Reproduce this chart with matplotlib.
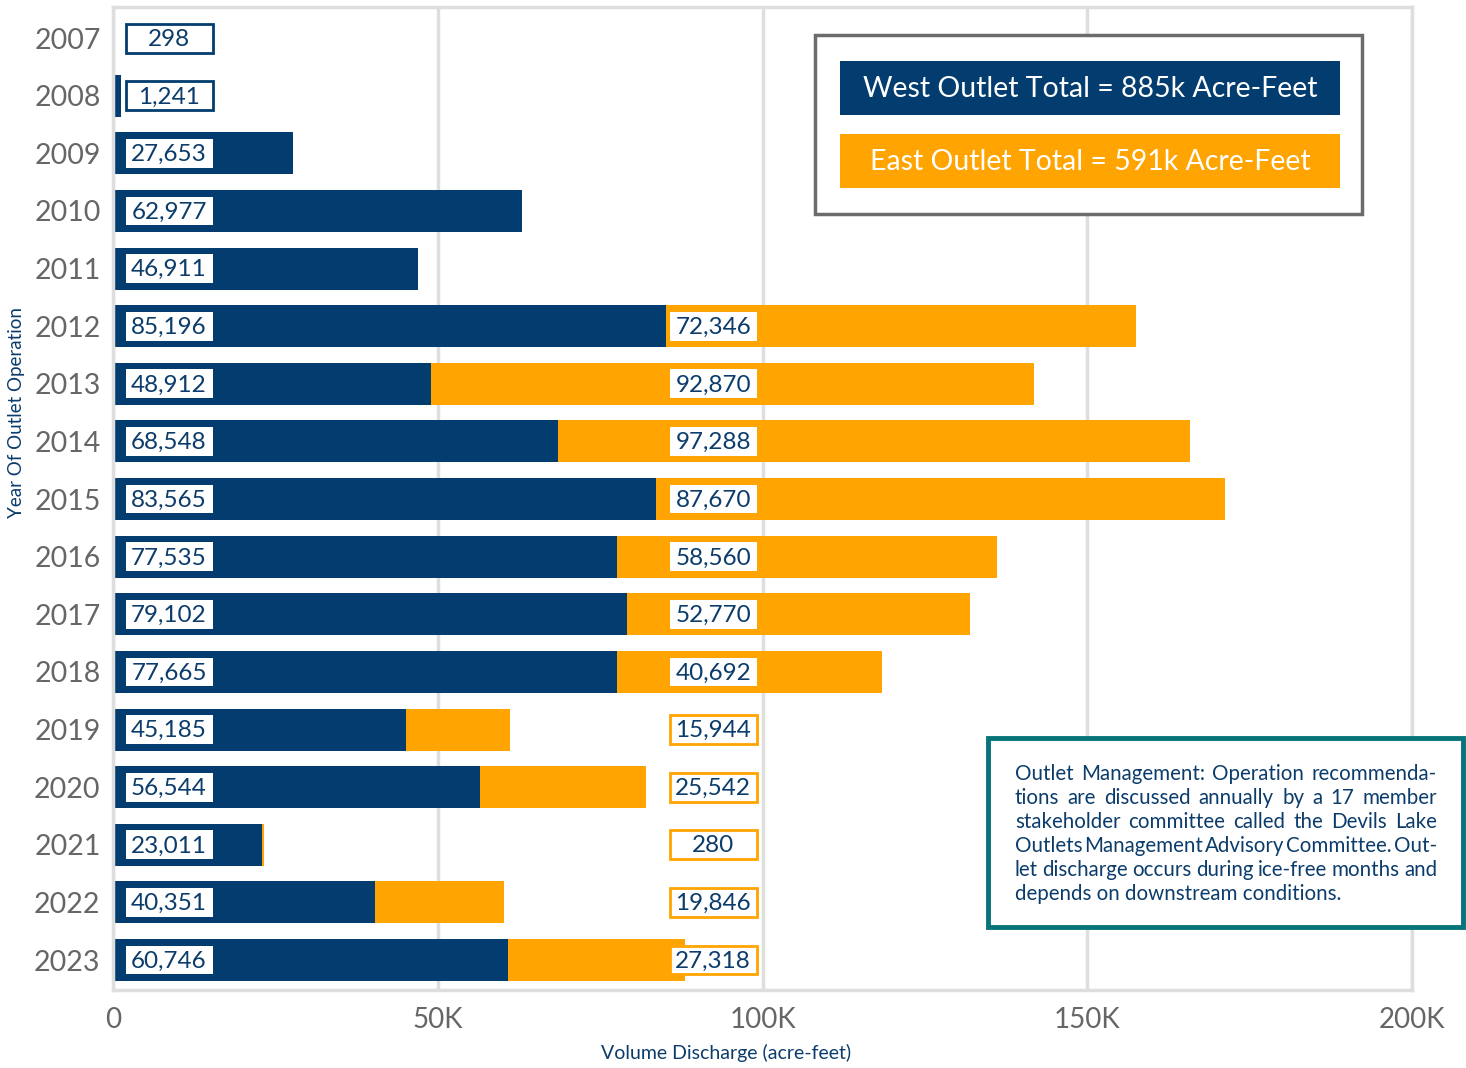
import numpy as np
import matplotlib
matplotlib.use("Agg")
import matplotlib.pyplot as plt
from matplotlib.patches import Rectangle

plt.rcParams['font.family'] = ['Lato', 'DejaVu Sans']

years = ["2007", "2008", "2009", "2010", "2011", "2012", "2013", "2014", "2015",
         "2016", "2017", "2018", "2019", "2020", "2021", "2022", "2023"]
west = [298, 1241, 27653, 62977, 46911, 85196, 48912, 68548, 83565,
        77535, 79102, 77665, 45185, 56544, 23011, 40351, 60746]
east = [0, 0, 0, 0, 0, 72346, 92870, 97288, 87670,
        58560, 52770, 40692, 15944, 25542, 280, 19846, 27318]
xticks = [0, 50000, 100000, 150000, 200000]
xtick_labels = ["0", "50K", "100K", "150K", "200K"]
legend_lines = ["West Outlet Total = 885k Acre-Feet", "East Outlet Total = 591k Acre-Feet"]
note_lines = ["Outlet Management: Operation recommenda-",
              "tions are discussed annually by a 17 member",
              "stakeholder committee called the Devils Lake",
              "Outlets Management Advisory Committee. Out-",
              "let discharge occurs during ice-free months and",
              "depends on downstream conditions."]

NAVY = "#033d6f"
ORANGE = "#ffa400"
GRID = "#dedede"
TXT = "#0b3c6b"
GRAY = "#666666"

W, H = 1466, 1068
fig = plt.figure(figsize=(W / 100, H / 100), dpi=100)

def fx(px):
    return px / W

def fy(py):
    return 1 - py / H

ax = fig.add_axes([fx(113), fy(990), fx(1412) - fx(113), fy(7) - fy(990)])
y = np.arange(len(years))
ax.barh(y, west, height=0.73, color=NAVY, zorder=2)
ax.barh(y, east, left=west, height=0.73, color=ORANGE, zorder=2)
ax.set_xlim(0, 200000)
ax.set_ylim(16.52, -0.54)
ax.set_xticks(xticks)
ax.set_xticklabels(xtick_labels)
ax.set_yticks(y)
ax.set_yticklabels(years)
ax.tick_params(axis="x", length=0, labelsize=20, labelcolor=GRAY, pad=12)
ax.tick_params(axis="y", length=0, labelsize=20.5, labelcolor=GRAY, pad=9)
ax.grid(axis="x", color=GRID, lw=2.5, zorder=0)
for s in ax.spines.values():
    s.set_color(GRID)
    s.set_linewidth(2.5)
fig.text(fx(726), fy(1053), "Volume Discharge (acre-feet)", ha="center", va="center",
         fontsize=14, color=TXT)
fig.text(fx(17), fy(412), "Year Of Outlet Operation", ha="center", va="center",
         rotation=90, fontsize=13.5, color=TXT)

# value boxes
bw, bh = 13400, 0.5
wc, ec = 8630, 92400
for i in range(len(years)):
    edge = NAVY if west[i] < wc + bw / 2 else "none"
    ax.add_patch(Rectangle((wc - bw / 2, i - bh / 2), bw, bh, facecolor="white",
                           edgecolor=edge, lw=2, zorder=3))
    ax.text(wc, i + 0.02, f"{west[i]:,}", ha="center", va="center",
            fontsize=17.5, color=TXT, zorder=4)
    if east[i] > 0:
        edge = ORANGE if west[i] + east[i] < ec + bw / 2 else "none"
        ax.add_patch(Rectangle((ec - bw / 2, i - bh / 2), bw, bh, facecolor="white",
                               edgecolor=edge, lw=2, zorder=3))
        ax.text(ec, i + 0.02, f"{east[i]:,}", ha="center", va="center",
                fontsize=17.5, color=TXT, zorder=4)

# legend box
fig.patches.append(Rectangle((fx(815), fy(214)), fx(1362) - fx(815), fy(35) - fy(214),
                             transform=fig.transFigure, facecolor="white",
                             edgecolor="#6b6b6b", lw=2.5, zorder=5))
for k, (txt, col) in enumerate(zip(legend_lines, [NAVY, ORANGE])):
    top = 61 + k * 73
    fig.patches.append(Rectangle((fx(840), fy(top + 54)), fx(1340) - fx(840), fy(top) - fy(top + 54),
                                 transform=fig.transFigure, facecolor=col,
                                 edgecolor="none", zorder=6))
    fig.text(fx(1090), fy(top + 28), txt, ha="center", va="center",
             fontsize=20.5, color="white", zorder=7)

# note box
fig.patches.append(Rectangle((fx(988), fy(927)), fx(1463) - fx(988), fy(738) - fy(927),
                             transform=fig.transFigure, facecolor="white",
                             edgecolor="#077479", lw=3.5, zorder=5))

fig.canvas.draw()
renderer = fig.canvas.get_renderer()
fs = 14.8
x0, x1 = 1015, 1437
for j, line in enumerate(note_lines):
    words = line.split(" ")
    ty = fy(774 + j * 24)
    if j == len(note_lines) - 1:
        fig.text(fx(x0), ty, line, ha="left", va="center", fontsize=fs, color=TXT, zorder=7)
        continue
    widths = []
    for w_ in words:
        t = fig.text(0, 0, w_, fontsize=fs)
        widths.append(t.get_window_extent(renderer).width)
        t.remove()
    gap = (x1 - x0 - sum(widths)) / max(len(words) - 1, 1)
    xp = x0
    for w_, wd in zip(words, widths):
        fig.text(fx(xp), ty, w_, ha="left", va="center", fontsize=fs, color=TXT, zorder=7)
        xp += wd + gap

fig.savefig("out.png", dpi=100)
